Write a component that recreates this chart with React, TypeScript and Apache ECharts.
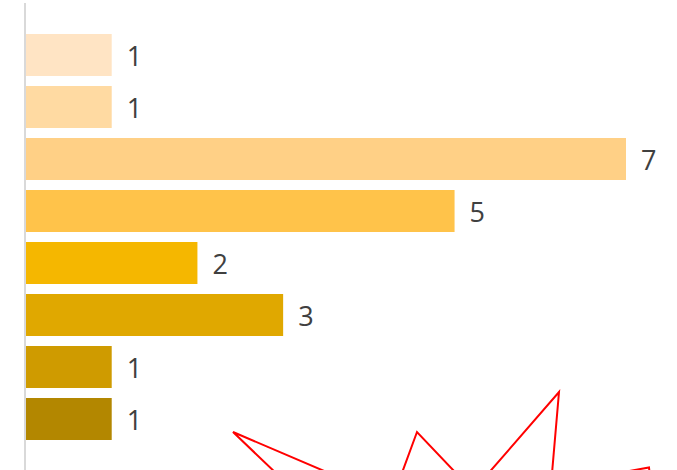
import React, { useEffect, useRef } from "react";
import * as echarts from "echarts";

const categories = ["A", "B", "C", "D", "E", "F", "G", "H"];
const values = [1, 1, 7, 5, 2, 3, 1, 1];
const barColors = ["#FFE4C4", "#FFDAA2", "#FFD086", "#FFC34A", "#F5B700", "#E0A800", "#CF9B00", "#B38700"];
const starPoints: number[][] = [
  [325, 520],
  [233, 432],
  [392, 500],
  [417, 432],
  [473, 491],
  [559, 392],
  [551, 485],
  [649, 467.5],
  [655, 520],
];

export default function App() {
  const ref = useRef<HTMLDivElement>(null);
  useEffect(() => {
    if (!ref.current) return;
    const chart = echarts.init(ref.current, undefined, { renderer: "svg" });
    chart.setOption({
      animation: false,
      backgroundColor: "#ffffff",
      grid: { left: 26, top: 29, width: 600, height: 416 },
      xAxis: {
        type: "value",
        min: 0,
        max: 7,
        show: false,
      },
      yAxis: {
        type: "category",
        data: categories,
        inverse: true,
        show: false,
      },
      series: [
        {
          type: "bar",
          data: values.map((v, i) => ({ value: v, itemStyle: { color: barColors[i] } })),
          barCategoryGap: "19.2%",
          label: {
            show: true,
            position: "right",
            distance: 15,
            color: "#404040",
            fontSize: 27,
            fontFamily: "Open Sans",
          },
        },
      ],
      graphic: [
        {
          type: "line",
          shape: { x1: 25, y1: 3, x2: 25, y2: 480 },
          style: { stroke: "#D9D9D9", lineWidth: 2 },
          z: 10,
        },
        {
          type: "polyline",
          shape: { points: starPoints },
          style: { stroke: "#FF0000", lineWidth: 2, fill: null },
          z: 10,
        },
      ],
    });
    return () => chart.dispose();
  }, []);
  return (
    <div
      ref={ref}
      style={{ position: "absolute", left: 0, top: 0, width: 677, height: 470 }}
    />
  );
}
